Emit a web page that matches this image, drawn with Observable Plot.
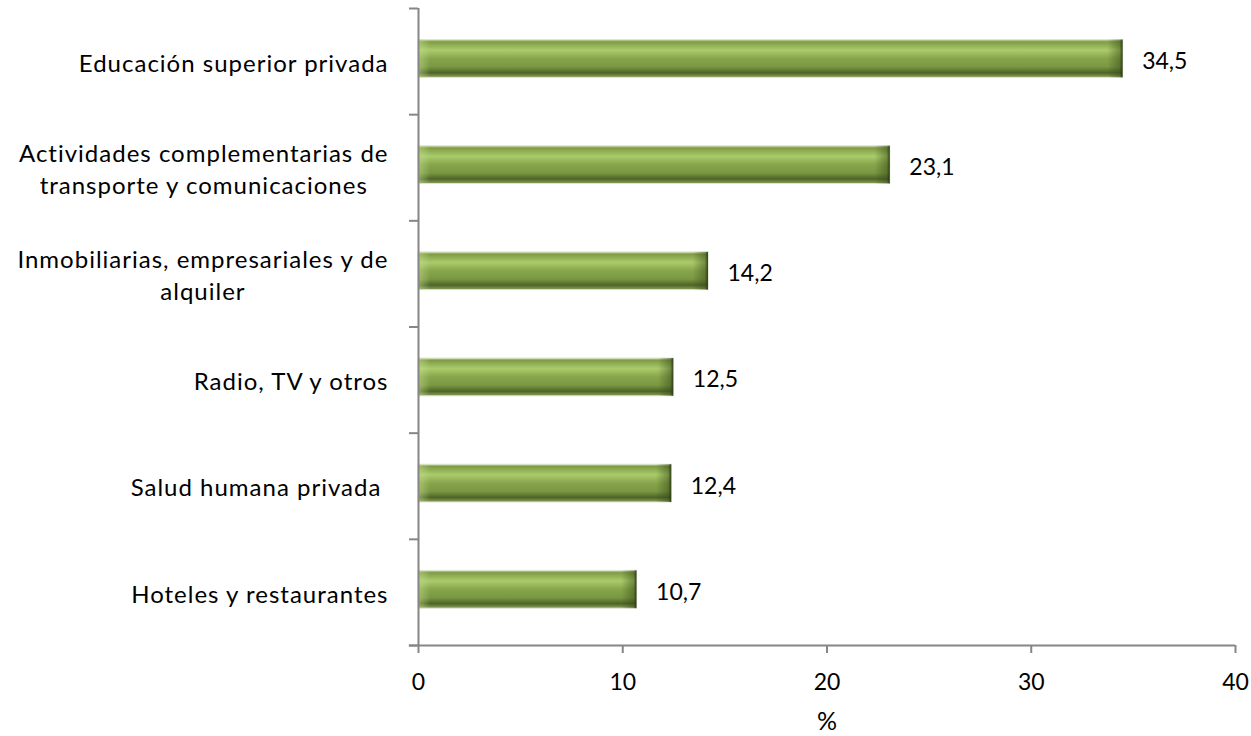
<!DOCTYPE html>
<html>
<head>
<meta charset="utf-8">
<script src="https://cdn.jsdelivr.net/npm/d3@7"></script>
<script src="https://cdn.jsdelivr.net/npm/@observablehq/plot@0.6"></script>
<style>
  body { margin: 0; background: #fff; }
  svg { font-family: Lato, "Open Sans", sans-serif; }
  .catlabel text { letter-spacing: 1px; }
  svg [aria-label="x-axis tick label"] { font-size: 23px !important; }
  svg [aria-label="x-axis label"] { font-size: 25px !important; }
</style>
</head>
<body>
<div id="chart"></div>
<script>
const categories = [
  "Educación superior privada",
  "Actividades complementarias de\ntransporte y comunicaciones",
  "Inmobiliarias, empresariales y de\nalquiler",
  "Radio, TV y otros",
  "Salud humana privada ",
  "Hoteles y restaurantes"
];
const values = [34.5, 23.1, 14.2, 12.5, 12.4, 10.7];
const valueLabels = ["34,5", "23,1", "14,2", "12,5", "12,4", "10,7"];
const xTicks = [0, 10, 20, 30, 40];

const data = categories.map((c, i) => ({cat: c, pos: i + 0.5, value: values[i], label: valueLabels[i]}));
const half = 0.178, shift = -0.025;

const chart = Plot.plot({
  width: 1251,
  height: 736,
  marginLeft: 418,
  marginRight: 16,
  marginTop: 8,
  marginBottom: 91,
  style: {fontSize: "22px", color: "#000", background: "#fff"},
  x: {domain: [0, 40]},
  y: {domain: [0, categories.length], reverse: true},
  marks: [
    Plot.rectX(data, {x1: 0, x2: "value", y1: d => d.pos + shift - half, y2: d => d.pos + shift + half, fill: "url(#barGrad)", stroke: "#dfe5d3", strokeWidth: 1}),
    Plot.rectX(data, {x1: d => d.value - 0.75, x2: "value", y1: d => d.pos + shift - half, y2: d => d.pos + shift + half, fill: "url(#endGrad)"}),
    Plot.rectX(data, {x1: 0, x2: 0.6, y1: d => d.pos + shift - half, y2: d => d.pos + shift + half, fill: "url(#startGrad)"}),
    Plot.text(data, {x: "value", y: "pos", text: "label", textAnchor: "start", dx: 19, fontSize: 23, fill: "#000"}),
    Plot.text(data, {x: 0, y: "pos", text: "cat", textAnchor: "end", dx: -30, fontSize: 24, fill: "#000", lineHeight: 1.33, className: "catlabel"}),
    Plot.axisX({ticks: xTicks, tickSize: 8, tickPadding: 20, stroke: "#868686", strokeWidth: 2, fill: "#000", label: "%", labelAnchor: "center", labelArrow: "none", labelOffset: 84}),
    Plot.axisY({ticks: d3.range(categories.length + 1), tickFormat: () => "", label: null, tickSize: 9, stroke: "#868686", strokeWidth: 2}),
    Plot.ruleX([0], {y1: 0, y2: categories.length, stroke: "#868686", strokeWidth: 2}),
    Plot.ruleY([categories.length], {x1: -0.45, x2: 40, stroke: "#868686", strokeWidth: 2})
  ]
});

const svg = d3.select(chart);
const defs = svg.insert("defs", ":first-child");
const g1 = defs.append("linearGradient").attr("id", "barGrad").attr("x1", 0).attr("y1", 0).attr("x2", 0).attr("y2", 1);
[[0, "#c9d8a8"], [0.06, "#7f9c45"], [0.28, "#aacb6b"], [0.5, "#87a54b"], [0.72, "#7a9842"], [0.88, "#4e6428"], [1, "#8aa15a"]]
  .forEach(([o, c]) => g1.append("stop").attr("offset", o).attr("stop-color", c));
const g2 = defs.append("linearGradient").attr("id", "endGrad").attr("x1", 0).attr("y1", 0).attr("x2", 1).attr("y2", 0);
[[0, "rgba(50,70,20,0)"], [0.8, "rgba(50,70,20,0.45)"], [1, "rgba(30,45,10,0.9)"]]
  .forEach(([o, c]) => g2.append("stop").attr("offset", o).attr("stop-color", c));
const g3 = defs.append("linearGradient").attr("id", "startGrad").attr("x1", 0).attr("y1", 0).attr("x2", 1).attr("y2", 0);
[[0, "rgba(200,225,150,0.5)"], [1, "rgba(200,225,150,0)"]]
  .forEach(([o, c]) => g3.append("stop").attr("offset", o).attr("stop-color", c));

document.getElementById("chart").appendChild(chart);

// center multi-line category labels within their block (right edge fixed)
svg.selectAll(".catlabel text").each(function() {
  const t = d3.select(this);
  if (this.querySelectorAll("tspan").length > 1) {
    const w = this.getBBox().width;
    t.attr("text-anchor", "middle");
    t.attr("transform", (t.attr("transform") || "") + ` translate(${-w / 2},0)`);
  }
});
</script>
</body>
</html>
